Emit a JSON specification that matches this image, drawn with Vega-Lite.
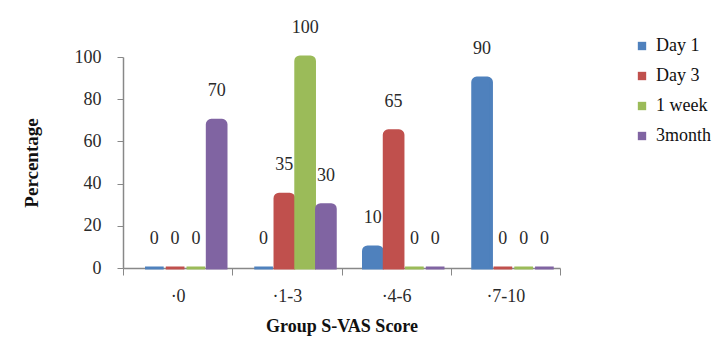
{
  "$schema": "https://vega.github.io/schema/vega-lite/v6.json",
  "width": 437,
  "height": 211,
  "autosize": "none",
  "padding": {"left": 123, "top": 57, "right": 165, "bottom": 73},
  "background": "white",
  "config": {
    "view": {"stroke": null},
    "font": "Liberation Serif",
    "axis": {"labelFont": "Liberation Serif", "titleFont": "Liberation Serif"},
    "legend": {"labelFont": "Liberation Serif"},
    "text": {"font": "Liberation Serif"}
  },
  "data": {
    "values": [
      {"group": "·0", "series": "Day 1", "value": 0},
      {"group": "·0", "series": "Day 3", "value": 0},
      {"group": "·0", "series": "1 week", "value": 0},
      {"group": "·0", "series": "3month", "value": 70},
      {"group": "·1-3", "series": "Day 1", "value": 0},
      {"group": "·1-3", "series": "Day 3", "value": 35},
      {"group": "·1-3", "series": "1 week", "value": 100},
      {"group": "·1-3", "series": "3month", "value": 30},
      {"group": "·4-6", "series": "Day 1", "value": 10},
      {"group": "·4-6", "series": "Day 3", "value": 65},
      {"group": "·4-6", "series": "1 week", "value": 0},
      {"group": "·4-6", "series": "3month", "value": 0},
      {"group": "·7-10", "series": "Day 1", "value": 90},
      {"group": "·7-10", "series": "Day 3", "value": 0},
      {"group": "·7-10", "series": "1 week", "value": 0},
      {"group": "·7-10", "series": "3month", "value": 0}
    ]
  },
  "encoding": {
    "x": {
      "field": "group", "type": "nominal", "sort": null,
      "scale": {"paddingInner": 0, "paddingOuter": 0},
      "axis": {
        "title": "Group S-VAS Score", "labelAngle": 0, "tickBand": "extent",
        "domainColor": "#888", "tickColor": "#888", "tickSize": 7, "domainWidth": 1.5,
        "labelFont": "Liberation Serif", "labelFontSize": 18, "labelColor": "#2a2a2a", "labelPadding": 12,
        "titleFont": "Liberation Serif", "titleFontSize": 18, "titleFontWeight": "bold", "titleColor": "#111", "titlePadding": 12
      }
    },
    "xOffset": {
      "field": "series", "type": "nominal", "sort": ["Day 1", "Day 3", "1 week", "3month"],
      "scale": {"paddingInner": 0.1, "range": [22, 103]}
    },
    "y": {
      "field": "value", "type": "quantitative",
      "scale": {"domain": [0, 100]},
      "axis": {
        "title": "Percentage", "values": [0, 20, 40, 60, 80, 100], "grid": false,
        "domainColor": "#888", "tickColor": "#888", "tickSize": 6, "domainWidth": 1.5,
        "labelFont": "Liberation Serif", "labelFontSize": 18, "labelColor": "#2a2a2a", "labelPadding": 16,
        "titleFont": "Liberation Serif", "titleFontSize": 19, "titleFontWeight": "bold", "titleColor": "#111", "titlePadding": 33
      }
    }
  },
  "layer": [
    {
      "mark": {"type": "bar", "strokeWidth": 3, "cornerRadiusTopLeft": 4, "cornerRadiusTopRight": 4},
      "encoding": {
        "color": {
          "field": "series", "type": "nominal", "sort": ["Day 1", "Day 3", "1 week", "3month"],
          "scale": {"domain": ["Day 1", "Day 3", "1 week", "3month"], "range": ["#4f81bd", "#c0504d", "#9bbb59", "#8064a2"]},
          "legend": {
            "title": null, "orient": "none", "legendX": 510, "legendY": -20,
            "symbolType": "square", "symbolSize": 70, "symbolStrokeWidth": 0,
            "labelFont": "Liberation Serif", "labelFontSize": 18, "labelColor": "#111", "rowPadding": 12, "labelOffset": 5
          }
        },
        "stroke": {
          "field": "series", "type": "nominal",
          "scale": {"domain": ["Day 1", "Day 3", "1 week", "3month"], "range": ["#4f81bd", "#c0504d", "#9bbb59", "#8064a2"]},
          "legend": null
        }
      }
    },
    {
      "mark": {"type": "text", "dy": -20, "fontSize": 18, "font": "Liberation Serif", "color": "#2a2a2a", "baseline": "bottom"},
      "encoding": {
        "text": {"field": "value", "type": "quantitative"}
      }
    }
  ]
}
